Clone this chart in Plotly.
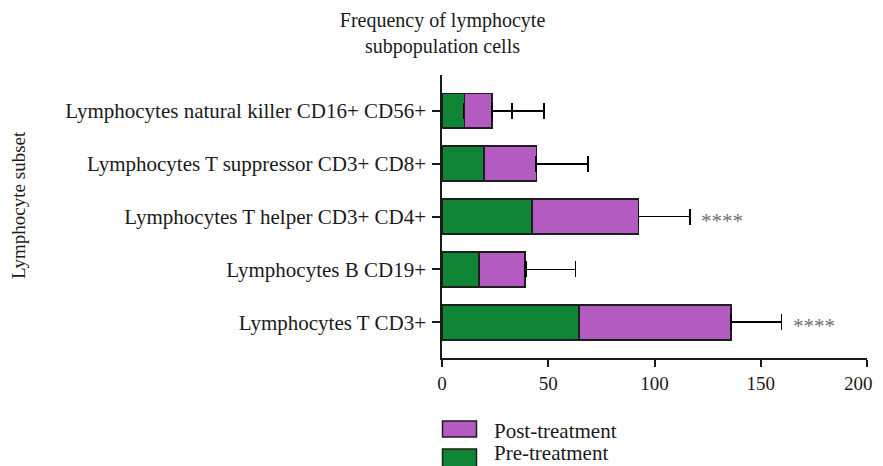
import plotly.graph_objects as go

# ---- data (bottom to top) ----
categories = [
    "Lymphocytes T CD3+",
    "Lymphocytes B CD19+",
    "Lymphocytes T helper CD3+ CD4+",
    "Lymphocytes T suppressor CD3+ CD8+",
    "Lymphocytes natural killer CD16+ CD56+",
]
pre_treatment = [64.4, 17.4, 42.4, 19.8, 10.5]
post_treatment = [71.6, 21.7, 50.1, 24.6, 13.0]
pre_err = [22.4, 22.3, 22.4, 22.4, 22.3]
post_err = [23.8, 23.7, 24.1, 24.2, 24.4]
significance = ["****", "", "****", "", ""]
x_ticks = [0, 50, 100, 150, 200]

GREEN = "#108536"
PURPLE = "#b35bc1"
EDGE = "#1e1e1e"
TXT = "#1a1a1a"
FONT = "Liberation Serif"
FS = 21

# page body has an 8px margin; work in screen pixels and offset
OFF = 8
W, H = 883 - 2 * OFF, 466 - OFF
L, T = 442 - OFF, 75 - OFF
R = (OFF + W) - 867
B = (OFF + H) - 358
PW, PH = W - L - R, H - T - B


def px(xs):
    return (xs - OFF - L) / PW


def py(ys):
    return (OFF + H - B - ys) / PH


fig = go.Figure()
fig.add_trace(go.Bar(
    y=categories, x=pre_treatment, orientation="h", name="Pre-treatment",
    marker=dict(color=GREEN, line=dict(color=EDGE, width=1.5)),
    error_x=dict(type="data", array=pre_err, arrayminus=[0] * len(pre_err),
                 symmetric=False, color="black", thickness=1.8, width=8),
))
fig.add_trace(go.Bar(
    y=categories, x=post_treatment, orientation="h", name="Post-treatment",
    marker=dict(color=PURPLE, line=dict(color=EDGE, width=1.5)),
    error_x=dict(type="data", array=post_err, arrayminus=[0] * len(post_err),
                 symmetric=False, color="black", thickness=1.8, width=8),
))

annotations = []
for c, p, q, e, s in zip(categories, pre_treatment, post_treatment, post_err, significance):
    if s:
        annotations.append(dict(
            x=p + q + e, y=c, xref="x", yref="y", text=s, showarrow=False,
            xanchor="left", yanchor="middle", xshift=9, yshift=-4,
            font=dict(family=FONT, size=21, color="#707070"),
        ))

# last x tick label kept inside the page edge
tick_text = [str(v) for v in x_ticks[:-1]] + [""]
annotations.append(dict(
    x=x_ticks[-1], y=py(383), xref="x", yref="paper", text=str(x_ticks[-1]),
    showarrow=False, xanchor="right", yanchor="middle", xshift=R,
    font=dict(family=FONT, size=19, color=TXT),
))

# axis title
annotations.append(dict(
    x=px(18), y=py(205), xref="paper", yref="paper", text="Lymphocyte subset",
    textangle=-90, showarrow=False, xanchor="center", yanchor="middle",
    font=dict(family=FONT, size=19, color=TXT),
))

# custom legend
shapes = []
legend_items = [("Post-treatment", PURPLE, 421, 437, 431), ("Pre-treatment", GREEN, 449, 470, 453)]
for name, col, y0, y1, ty in legend_items:
    shapes.append(dict(type="rect", xref="paper", yref="paper",
                       x0=px(442.5), x1=px(476.5), y0=py(y1), y1=py(y0),
                       fillcolor=col, line=dict(color=EDGE, width=1.5)))
    annotations.append(dict(
        x=px(492), y=py(ty), xref="paper", yref="paper", text=name,
        showarrow=False, xanchor="left", yanchor="middle",
        font=dict(family=FONT, size=FS, color=TXT),
    ))

fig.update_layout(
    width=W, height=H,
    margin=dict(l=L, r=R, t=T, b=B, pad=0),
    barmode="stack", bargap=0.34,
    plot_bgcolor="white", paper_bgcolor="white",
    showlegend=False,
    font=dict(family=FONT, size=FS, color=TXT),
    title=dict(text="Frequency of lymphocyte<br>subpopulation cells",
               x=px(655), xanchor="center", y=1 - (27 - OFF) / H, yanchor="middle",
               font=dict(family=FONT, size=20, color=TXT)),
    xaxis=dict(range=[0, 200], tickvals=x_ticks, ticktext=tick_text,
               showgrid=False, zeroline=False, showline=True, linecolor=TXT,
               linewidth=1.5, ticks="outside", ticklen=7, tickwidth=1.5,
               tickcolor=TXT, tickfont=dict(size=19), automargin=False),
    yaxis=dict(range=[-0.675, 4.675], showgrid=False, zeroline=False, showline=True,
               linecolor=TXT, linewidth=1.5, ticks="outside", ticklen=8,
               tickwidth=1.5, tickcolor=TXT, ticklabelstandoff=2, automargin=False,
               categoryorder="array", categoryarray=categories),
    shapes=shapes,
    annotations=annotations,
)

fig.write_html("out.html")
